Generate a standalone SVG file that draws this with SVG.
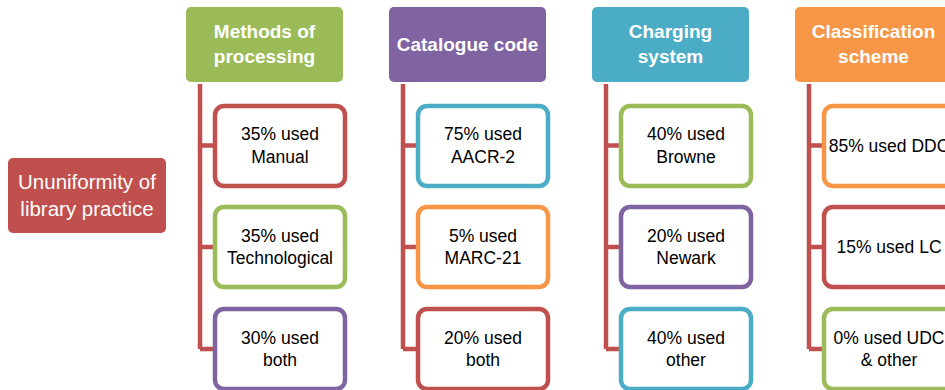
<svg xmlns="http://www.w3.org/2000/svg" width="945" height="390" viewBox="0 0 945 390">
<style>
.hd{font-family:"Liberation Sans",Arial,sans-serif;font-weight:bold;font-size:19px;fill:#fff;text-anchor:middle}
.rt{font-family:"Liberation Sans",Arial,sans-serif;font-size:20.5px;fill:#fff;text-anchor:middle}
.ct{font-family:"Liberation Sans",Arial,sans-serif;font-size:17.5px;fill:#000;text-anchor:middle}
.ch{fill:#fff;stroke-width:4.5}
.cn{fill:none;stroke:#C0504D;stroke-width:4.5}
</style>
<rect width="945" height="390" fill="#fff"/>
<g id="connectors">
<path class="cn" d="M200 84V349M200 145.5H213M200 247H213M200 349H213"/>
<path class="cn" d="M403 84V349M403 145.5H416M403 247H416M403 349H416"/>
<path class="cn" d="M606 84V349M606 145.5H619M606 247H619M606 349H619"/>
<path class="cn" d="M809 84V349M809 145.5H822M809 247H822M809 349H822"/>
</g>
<g id="root">
<rect x="8" y="158" width="158" height="75" rx="5" fill="#C0504D"/>
<text class="rt" x="87" y="189">Ununiformity of</text>
<text class="rt" x="87" y="216">library practice</text>
</g>
<g id="h1"><rect x="186" y="7" width="157" height="75" rx="5" fill="#9BBB59"/>
<text class="hd" x="264.5" y="38">Methods of</text><text class="hd" x="264.5" y="63">processing</text></g>
<g id="h2"><rect x="389" y="7" width="157" height="75" rx="5" fill="#8064A2"/>
<text class="hd" x="467.5" y="51">Catalogue code</text></g>
<g id="h3"><rect x="592" y="7" width="157" height="75" rx="5" fill="#4BACC6"/>
<text class="hd" x="670.5" y="38">Charging</text><text class="hd" x="670.5" y="63">system</text></g>
<g id="h4"><rect x="795" y="7" width="157" height="75" rx="5" fill="#F79646"/>
<text class="hd" x="873.5" y="38">Classification</text><text class="hd" x="873.5" y="63">scheme</text></g>

<g id="m1"><rect class="ch" x="215" y="106" width="130" height="80" rx="9" stroke="#C0504D"/>
<text class="ct" x="280" y="140">35% used</text><text class="ct" x="280" y="163">Manual</text></g>
<g id="m2"><rect class="ch" x="215" y="207" width="130" height="80" rx="9" stroke="#9BBB59"/>
<text class="ct" x="280" y="242">35% used</text><text class="ct" x="280" y="264">Technological</text></g>
<g id="m3"><rect class="ch" x="215" y="309" width="130" height="80" rx="9" stroke="#8064A2"/>
<text class="ct" x="280" y="344">30% used</text><text class="ct" x="280" y="366">both</text></g>

<g id="c1"><rect class="ch" x="418" y="106" width="130" height="80" rx="9" stroke="#4BACC6"/>
<text class="ct" x="483" y="140">75% used</text><text class="ct" x="483" y="163">AACR-2</text></g>
<g id="c2"><rect class="ch" x="418" y="207" width="130" height="80" rx="9" stroke="#F79646"/>
<text class="ct" x="483" y="242">5% used</text><text class="ct" x="483" y="264">MARC-21</text></g>
<g id="c3"><rect class="ch" x="418" y="309" width="130" height="80" rx="9" stroke="#C0504D"/>
<text class="ct" x="483" y="344">20% used</text><text class="ct" x="483" y="366">both</text></g>

<g id="s1"><rect class="ch" x="621" y="106" width="130" height="80" rx="9" stroke="#9BBB59"/>
<text class="ct" x="686" y="140">40% used</text><text class="ct" x="686" y="163">Browne</text></g>
<g id="s2"><rect class="ch" x="621" y="207" width="130" height="80" rx="9" stroke="#8064A2"/>
<text class="ct" x="686" y="242">20% used</text><text class="ct" x="686" y="264">Newark</text></g>
<g id="s3"><rect class="ch" x="621" y="309" width="130" height="80" rx="9" stroke="#4BACC6"/>
<text class="ct" x="686" y="344">40% used</text><text class="ct" x="686" y="366">other</text></g>

<g id="k1"><rect class="ch" x="824" y="106" width="130" height="80" rx="9" stroke="#F79646"/>
<text class="ct" x="889" y="152">85% used DDC</text></g>
<g id="k2"><rect class="ch" x="824" y="207" width="130" height="80" rx="9" stroke="#C0504D"/>
<text class="ct" x="889" y="253">15% used LC</text></g>
<g id="k3"><rect class="ch" x="824" y="309" width="130" height="80" rx="9" stroke="#9BBB59"/>
<text class="ct" x="889" y="344">0% used UDC</text><text class="ct" x="889" y="366">&amp; other</text></g>
</svg>
